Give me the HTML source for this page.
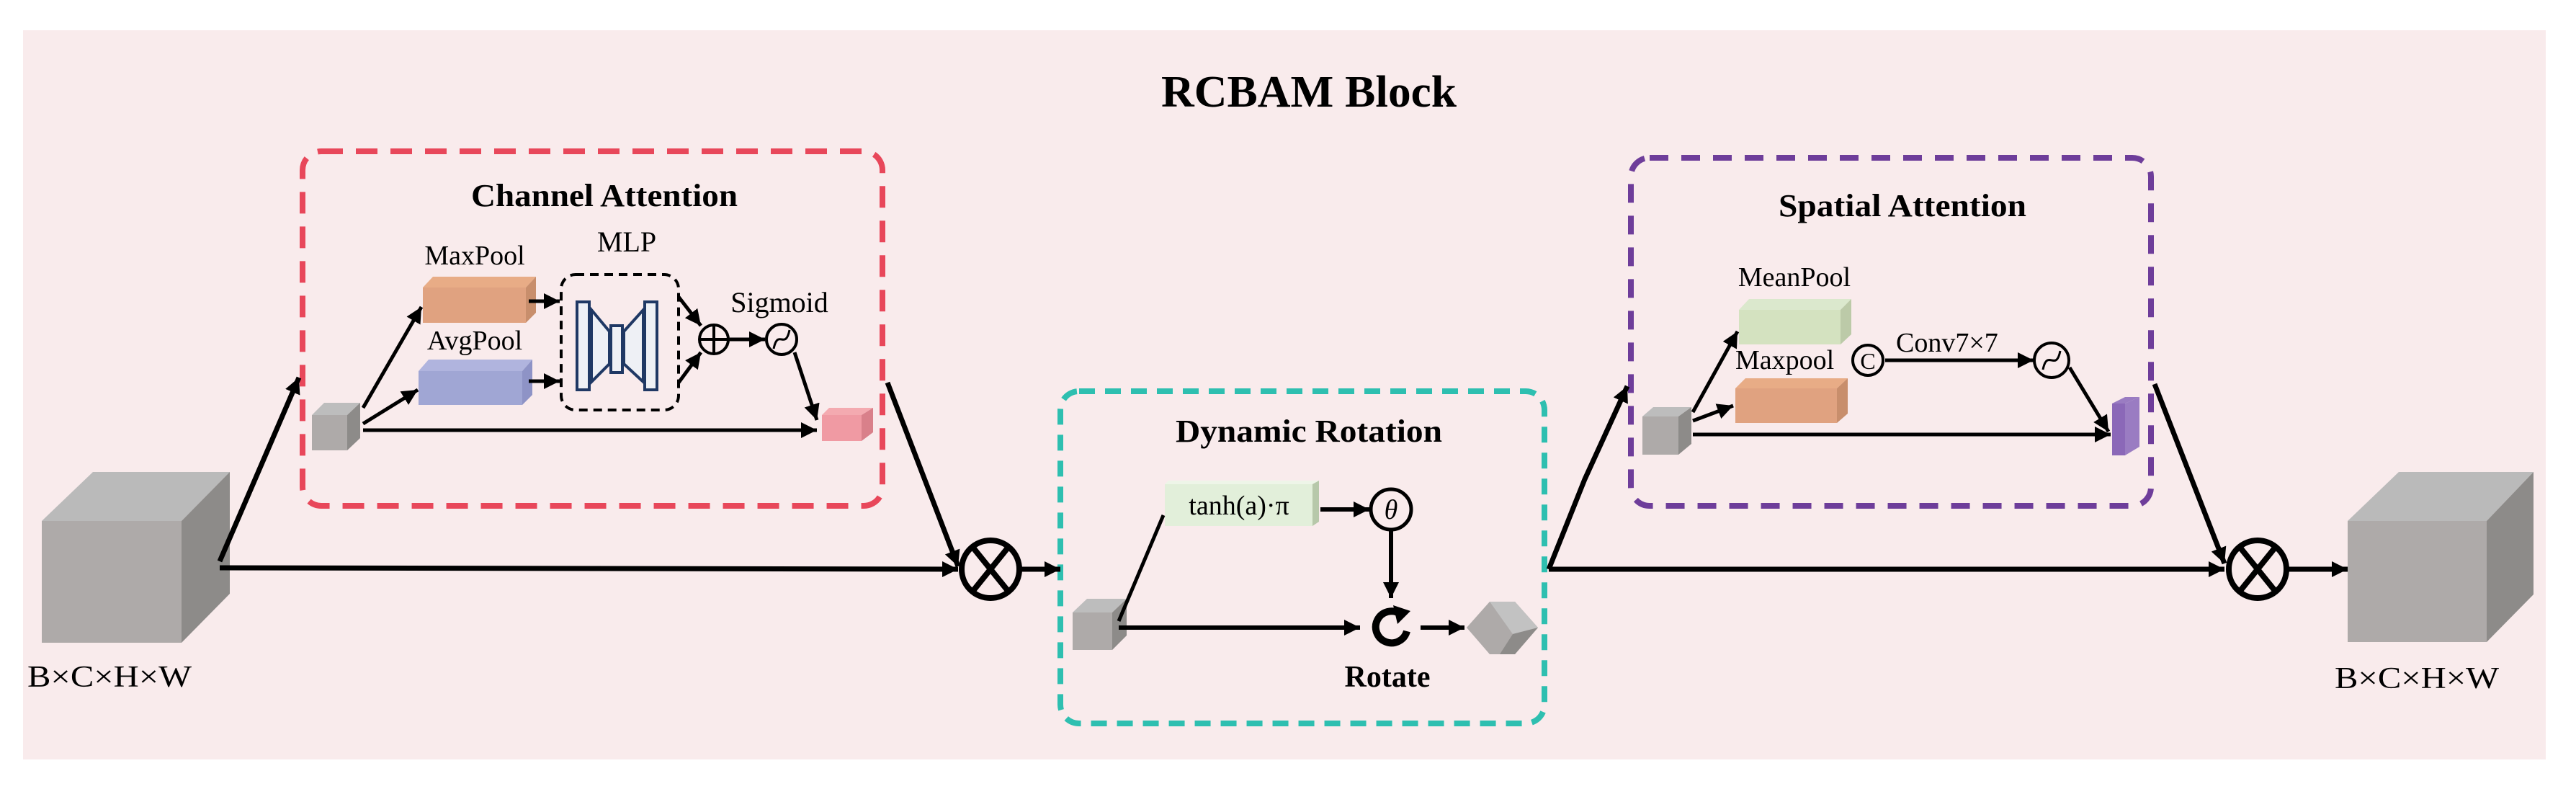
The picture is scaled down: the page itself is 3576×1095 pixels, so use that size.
<!DOCTYPE html>
<html><head><meta charset="utf-8"><style>
html,body{margin:0;padding:0;background:#fff;}
svg{display:block;}
</style></head><body>
<svg width="3576" height="1095" viewBox="0 0 3576 1095" xmlns="http://www.w3.org/2000/svg" font-family="'Liberation Serif', 'DejaVu Serif', serif">
<defs>
<marker id="a" viewBox="0 0 10 10" refX="10" refY="5" markerWidth="22" markerHeight="22" markerUnits="userSpaceOnUse" orient="auto"><path d="M0,0 L10,5 L0,10 z" fill="#000"/></marker>
</defs>
<rect x="32" y="42" width="3502" height="1012" fill="#f9ebec"/>
<text x="1817" y="148" font-size="62" font-weight="bold" text-anchor="middle" textLength="410" lengthAdjust="spacingAndGlyphs" font-family="Liberation Serif, serif">RCBAM Block</text>

<rect x="420" y="210" width="805" height="492" rx="26" fill="none" stroke="#e8475a" stroke-width="8" stroke-dasharray="30,18"/>
<rect x="1472" y="543" width="672" height="461" rx="26" fill="none" stroke="#2ebfb0" stroke-width="8" stroke-dasharray="22,14"/>
<rect x="2264" y="219" width="722" height="483" rx="26" fill="none" stroke="#6e3d9a" stroke-width="8" stroke-dasharray="26,18"/>

<text x="839" y="286" font-size="44" font-weight="bold" text-anchor="middle" font-family="Liberation Serif, serif" textLength="370" lengthAdjust="spacingAndGlyphs">Channel Attention</text>
<text x="1817" y="613" font-size="44" font-weight="bold" text-anchor="middle" font-family="Liberation Serif, serif" textLength="370" lengthAdjust="spacingAndGlyphs">Dynamic Rotation</text>
<text x="2641" y="300" font-size="44" font-weight="bold" text-anchor="middle" font-family="Liberation Serif, serif" textLength="344" lengthAdjust="spacingAndGlyphs">Spatial Attention</text>

<polygon points="58,723 129,655 319,655 252,723" fill="#bababa"/>
<polygon points="252,723 319,655 319,824 252,892" fill="#8d8b89"/>
<rect x="58" y="723" width="194" height="169" fill="#aeaaa9"/>
<text x="38" y="953" font-size="42" font-family="Liberation Serif, serif" textLength="228" lengthAdjust="spacingAndGlyphs">B×C×H×W</text>

<polygon points="3259,723 3330,655 3517,655 3452,723" fill="#bababa"/>
<polygon points="3452,723 3517,655 3517,825 3452,891" fill="#8d8b89"/>
<rect x="3259" y="723" width="193" height="168" fill="#aeaaa9"/>
<text x="3241" y="955" font-size="42" font-family="Liberation Serif, serif" textLength="228" lengthAdjust="spacingAndGlyphs">B×C×H×W</text>

<polygon points="433,576 450,559 500,559 482,576" fill="#bdbdbd"/>
<polygon points="482,576 500,559 500,608 482,625" fill="#8d8b89"/>
<rect x="433" y="576" width="49" height="49" fill="#aeaaa9"/>

<polygon points="587,399 601,384 744,384 730,399" fill="#e8ac86"/>
<polygon points="730,399 744,384 744,434 730,448" fill="#c88e6c"/>
<rect x="587" y="399" width="143" height="49" fill="#e0a280"/>
<text x="659" y="367" font-size="38" text-anchor="middle" font-family="Liberation Serif, serif">MaxPool</text>

<polygon points="581,515 595,499 739,499 725,515" fill="#b0b4de"/>
<polygon points="725,515 739,499 739,548 725,562" fill="#8e93c6"/>
<rect x="581" y="515" width="144" height="47" fill="#a0a6d4"/>
<text x="659" y="485" font-size="38" text-anchor="middle" font-family="Liberation Serif, serif">AvgPool</text>

<rect x="779" y="381" width="163" height="188" rx="20" fill="none" stroke="#000" stroke-width="4" stroke-dasharray="12,8"/>
<text x="870" y="349" font-size="40" text-anchor="middle" font-family="Liberation Serif, serif">MLP</text>
<g stroke="#1f3864" stroke-width="4" fill="#eef0f5">
<polygon points="821,430 846,460 846,505 821,530"/>
<polygon points="866,460 893,430 893,530 866,505"/>
<rect x="801" y="419" width="17" height="122"/>
<rect x="848" y="452" width="16" height="65"/>
<rect x="895" y="419" width="17" height="122"/>
</g>
<circle cx="991" cy="471" r="20" fill="none" stroke="#000" stroke-width="4"/>
<path d="M971,471 H1011 M991,451 V491" stroke="#000" stroke-width="4"/>
<circle cx="1085" cy="471" r="21" fill="none" stroke="#000" stroke-width="4"/>
<path d="M1074,484 C1080,455 1090,487 1096,458" fill="none" stroke="#000" stroke-width="3"/>
<text x="1082" y="433" font-size="40" text-anchor="middle" font-family="Liberation Serif, serif">Sigmoid</text>

<polygon points="1141,576 1151,566 1212,566 1196,576" fill="#f4aab0"/>
<polygon points="1196,576 1212,566 1212,600 1196,612" fill="#d9808a"/>
<rect x="1141" y="576" width="55" height="36" fill="#f09aa3"/>

<g stroke="#000" stroke-width="5" fill="none" marker-end="url(#a)">
<line x1="504" y1="566" x2="585" y2="426"/>
<line x1="504" y1="588" x2="580" y2="541"/>
<line x1="504" y1="597" x2="1134" y2="597"/>
<line x1="734" y1="418" x2="777" y2="418"/>
<line x1="734" y1="529" x2="777" y2="529"/>
<line x1="942" y1="412" x2="973" y2="452"/>
<line x1="942" y1="531" x2="973" y2="489"/>
<line x1="1011" y1="471" x2="1062" y2="471"/>
<line x1="1103" y1="489" x2="1134" y2="583"/>
</g>

<g stroke="#000" stroke-width="7" fill="none" marker-end="url(#a)">
<line x1="305" y1="779" x2="415" y2="524"/>
<line x1="305" y1="788" x2="1330" y2="790"/>
<line x1="1232" y1="531" x2="1330" y2="786"/>
<line x1="1418" y1="790" x2="1472" y2="790"/>
<line x1="2150" y1="790" x2="3088" y2="790"/>
<line x1="2991" y1="533" x2="3088" y2="782"/>
<line x1="3177" y1="790" x2="3259" y2="790"/>
</g>
<polyline points="2150,790 2200,665 2259,536" fill="none" stroke="#000" stroke-width="7" marker-end="url(#a)"/>

<g stroke="#000" stroke-width="8" fill="#f9ebec">
<circle cx="1375" cy="790" r="40"/>
<path d="M1350,759 L1400,821 M1400,759 L1350,821" fill="none"/>
<circle cx="3134" cy="790" r="40"/>
<path d="M3109,759 L3159,821 M3159,759 L3109,821" fill="none"/>
</g>

<polygon points="1489,850 1509,831 1564,831 1544,850" fill="#bdbdbd"/>
<polygon points="1544,850 1564,831 1564,882 1544,902" fill="#8d8b89"/>
<rect x="1489" y="850" width="55" height="52" fill="#aeaaa9"/>
<polygon points="1617,672 1622,667 1831,667 1822,672" fill="#eef5e8"/>
<polygon points="1822,672 1831,667 1831,724 1822,730" fill="#b7c8aa"/>
<rect x="1617" y="672" width="205" height="58" fill="#e2efda"/>
<text x="1720" y="714" font-size="38" text-anchor="middle" font-family="Liberation Serif, serif">tanh(a)·π</text>
<circle cx="1931" cy="707" r="28" fill="none" stroke="#000" stroke-width="5"/>
<text x="1931" y="720" font-size="38" font-style="italic" text-anchor="middle" font-family="Liberation Serif, serif">θ</text>
<line x1="1553" y1="862" x2="1615" y2="715" stroke="#000" stroke-width="5"/>
<g stroke="#000" stroke-width="6" fill="none" marker-end="url(#a)">
<line x1="1833" y1="707" x2="1901" y2="707"/>
<line x1="1931" y1="736" x2="1931" y2="830"/>
<line x1="1553" y1="871" x2="1888" y2="871"/>
<line x1="1972" y1="871" x2="2033" y2="871"/>
</g>
<path d="M1944,852 A22,22 0 1 0 1953,876" fill="none" stroke="#000" stroke-width="10"/>
<polygon points="1934,840 1958,848 1940,866" fill="#000"/>
<text x="1926" y="953" font-size="42" font-weight="bold" text-anchor="middle" font-family="Liberation Serif, serif">Rotate</text>
<polygon points="2036,871 2068,835 2103,835 2135,871 2103,908 2068,908" fill="#aeaaa9"/>
<polygon points="2068,835 2103,835 2135,871 2100,880" fill="#c2c2c2"/>
<polygon points="2100,880 2135,871 2103,908 2082,908" fill="#8d8b89"/>

<polygon points="2280,578 2295,565 2348,565 2330,578" fill="#bdbdbd"/>
<polygon points="2330,578 2348,565 2348,616 2330,631" fill="#8d8b89"/>
<rect x="2280" y="578" width="50" height="53" fill="#aeaaa9"/>
<polygon points="2414,430 2428,415 2570,415 2555,430" fill="#dbe8cd"/>
<polygon points="2555,430 2570,415 2570,464 2555,478" fill="#bccaa8"/>
<rect x="2414" y="430" width="141" height="48" fill="#d4e2c0"/>
<text x="2491" y="397" font-size="38" text-anchor="middle" font-family="Liberation Serif, serif">MeanPool</text>
<polygon points="2409,539 2423,525 2565,525 2550,539" fill="#e8ac86"/>
<polygon points="2550,539 2565,525 2565,574 2550,587" fill="#c88e6c"/>
<rect x="2409" y="539" width="141" height="48" fill="#e0a280"/>
<text x="2409" y="512" font-size="38" font-family="Liberation Serif, serif">Maxpool</text>
<circle cx="2593" cy="500" r="21" fill="none" stroke="#000" stroke-width="4"/>
<text x="2593" y="512" font-size="32" text-anchor="middle" font-family="Liberation Serif, serif">C</text>
<text x="2632" y="488" font-size="38" font-family="Liberation Serif, serif">Conv7×7</text>
<circle cx="2848" cy="500" r="24" fill="none" stroke="#000" stroke-width="4"/>
<path d="M2836,513 C2842,483 2854,517 2860,487" fill="none" stroke="#000" stroke-width="3"/>
<polygon points="2932,560 2950,551 2970,551 2950,560" fill="#9a7cc2"/>
<polygon points="2950,560 2970,551 2970,620 2950,632" fill="#9a7cc2"/>
<rect x="2932" y="560" width="18" height="72" fill="#8b68b8"/>
<g stroke="#000" stroke-width="5" fill="none" marker-end="url(#a)">
<line x1="2350" y1="572" x2="2412" y2="460"/>
<line x1="2350" y1="584" x2="2406" y2="563"/>
<line x1="2350" y1="603" x2="2930" y2="603"/>
<line x1="2617" y1="500" x2="2823" y2="500"/>
<line x1="2873" y1="510" x2="2927" y2="599"/>
</g>
</svg>
</body></html>
